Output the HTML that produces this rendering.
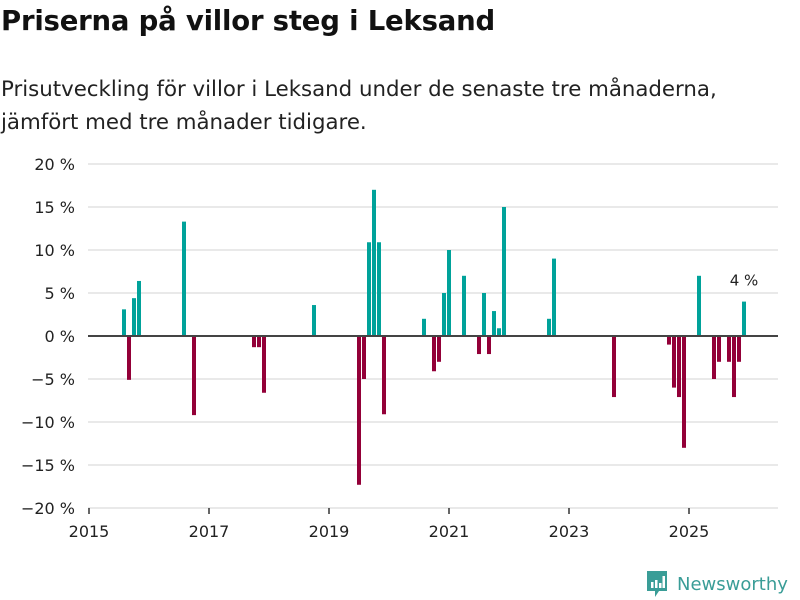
<!DOCTYPE html>
<html><head><meta charset="utf-8"><style>
body{margin:0;background:#fff;font-family:"DejaVu Sans","Liberation Sans",sans-serif;}
#wrap{position:relative;width:800px;height:600px;overflow:hidden;}
h1{position:absolute;left:1px;top:5px;margin:0;font-size:27.5px;font-weight:bold;color:#111;letter-spacing:-0.2px;font-family:"DejaVu Sans","Liberation Sans",sans-serif;}
.sub{position:absolute;left:1px;top:73px;margin:0;font-size:21.3px;line-height:33px;color:#222;}
</style></head><body>
<div id="wrap">
<h1>Priserna på villor steg i Leksand</h1>
<p class="sub">Prisutveckling för villor i Leksand under de senaste tre månaderna,<br>jämfört med tre månader tidigare.</p>
<svg id="chart" width="800" height="600" style="position:absolute;left:0;top:0"></svg>
<div style="position:absolute;left:645px;top:569px;display:flex;align-items:center;">
<svg width="24" height="30" viewBox="0 0 24 30"><path d="M2 2h20v20h-8l-4 6v-6H2z" fill="#3a9d97"/><rect x="6" y="13" width="2.5" height="6" fill="#fff"/><rect x="10" y="11" width="2.5" height="8" fill="#fff"/><rect x="14" y="14" width="2.5" height="5" fill="#fff"/><rect x="17.5" y="7" width="2.5" height="12" fill="#fff"/></svg>
<span style="margin-left:8px;font-size:18px;color:#3a9d97;font-family:'DejaVu Sans',sans-serif;">Newsworthy</span>
</div>
</div>
<script>
const monthIndex=[7,8,9,10,19,21,33,34,35,45,54,55,56,57,58,59,67,69,70,71,72,75,78,79,80,81,82,83,92,93,105,116,117,118,119,122,125,126,128,129,130,131];
const values=[3.1,-5.1,4.4,6.4,13.3,-9.2,-1.3,-1.3,-6.6,3.6,-17.3,-5.0,10.9,17.0,10.9,-9.1,2.0,-4.1,-3.0,5.0,10.0,7.0,-2.1,5.0,-2.1,2.9,0.9,15.0,2.0,9.0,-7.1,-1.0,-6.0,-7.1,-13.0,7.0,-5.0,-3.0,-3.0,-7.1,-3.0,4.0];
const yTicks=[20,15,10,5,0,-5,-10,-15,-20];
const xTicks=[2015,2017,2019,2021,2023,2025];
const NS="http://www.w3.org/2000/svg";
const svg=document.getElementById('chart');
const y=v=>336-v*8.6;
const xm=i=>89+5*i;
const xy=yr=>89+(yr-2015)*60;
function mk(t,a){const e=document.createElementNS(NS,t);for(const k in a)e.setAttribute(k,a[k]);svg.appendChild(e);return e;}
yTicks.forEach(v=>{
  if(v!==0){const g=mk('line',{x1:88,x2:778,y1:y(v),y2:y(v),stroke:'#e2e2e2','stroke-width':1.5});
  
  }
  const t=mk('text',{x:75,y:y(v)+6,'text-anchor':'end','font-size':16,fill:'#222','font-family':'DejaVu Sans,sans-serif'});
  t.textContent=(v<0?'\u2212'+(-v):v)+' %';
  
  
});
xTicks.forEach(yr=>{
  const l=mk('line',{x1:xy(yr),x2:xy(yr),y1:508,y2:514,stroke:'#333','stroke-width':1.5});
  
  
  const t=mk('text',{x:xy(yr),y:537,'text-anchor':'middle','font-size':16,fill:'#222','font-family':'DejaVu Sans,sans-serif'});
  t.textContent=yr;
  
  
});
values.forEach((v,k)=>{
  const x=xm(monthIndex[k]);
  const r=mk('rect',{x:x-2,y:Math.min(y(v),336),width:4,height:Math.abs(y(v)-336),fill:v>=0?'#00a29a':'#930038'});
  
  
});
const z=mk('line',{x1:88,x2:778,y1:336,y2:336,stroke:'#444','stroke-width':2});


const last=values.length-1;
const lab=mk('text',{x:xm(monthIndex[last]),y:y(values[last])-16,'text-anchor':'middle','font-size':15,fill:'#222','font-family':'DejaVu Sans,sans-serif'});
lab.textContent=values[last].toFixed(0)+' %';


</script>
</body></html>
